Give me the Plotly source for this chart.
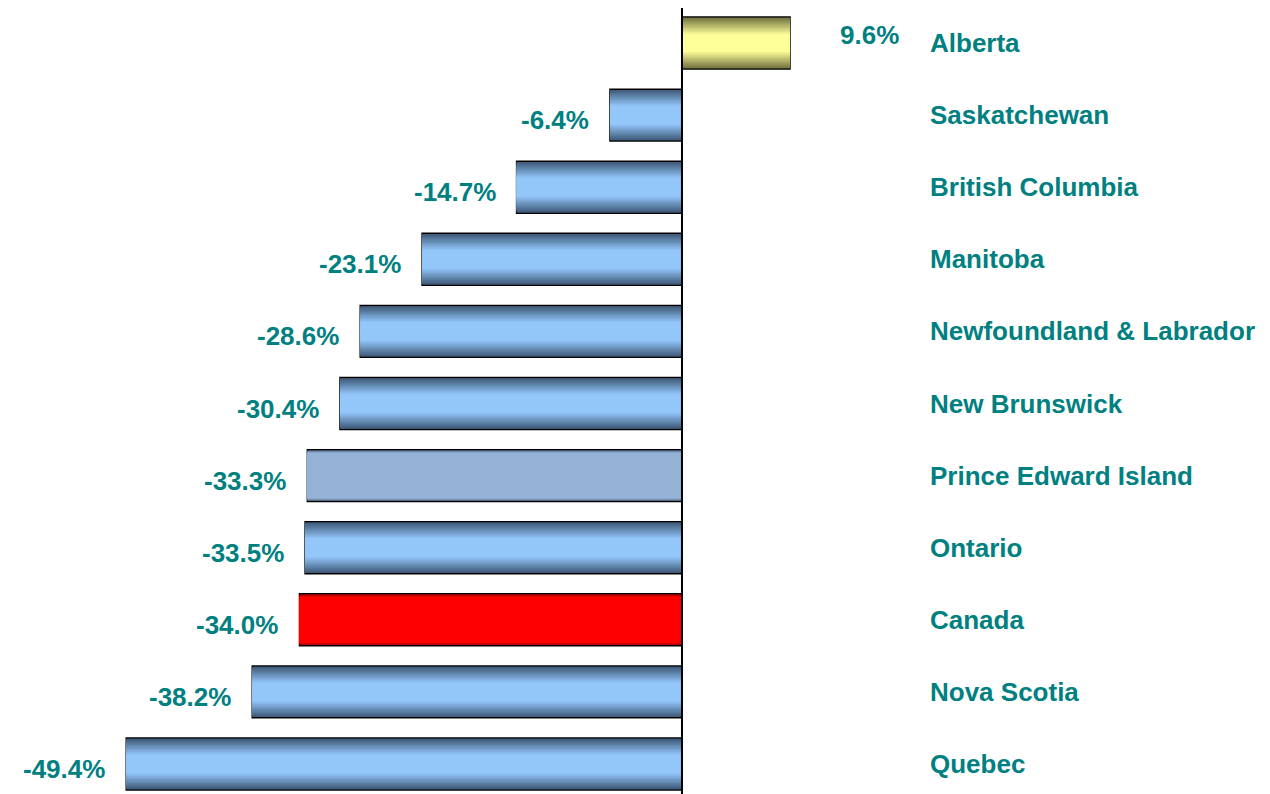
import plotly.graph_objects as go

# Ordre de haut en bas
provinces = ['Alberta', 'Saskatchewan', 'British Columbia', 'Manitoba',
             'Newfoundland & Labrador', 'New Brunswick', 'Prince Edward Island',
             'Ontario', 'Canada', 'Nova Scotia', 'Quebec']
changes = [9.6, -6.4, -14.7, -23.1, -28.6, -30.4, -33.3, -33.5, -34.0, -38.2, -49.4]
labels = ['9.6%', '-6.4%', '-14.7%', '-23.1%', '-28.6%', '-30.4%', '-33.3%',
          '-33.5%', '-34.0%', '-38.2%', '-49.4%']
styles = ['alberta', 'blue', 'blue', 'blue', 'blue', 'blue', 'pei',
          'blue', 'canada', 'blue', 'blue']

TEAL = '#008080'
FONT = 'Liberation Sans, Arial, sans-serif'

# couleur du bord, couleur du centre, largeur de la zone sombre
palette = {
    'blue': ('#3b5574', '#93c7fa', 0.62),
    'alberta': ('#6f6f3f', '#ffff99', 0.65),
    'pei': ('#4f627c', '#95b3d7', 0.12),
    'canada': ('#9a0000', '#ff0000', 0.12),
}


def mix(c1, c2, t):
    a = [int(c1[i:i + 2], 16) for i in (1, 3, 5)]
    b = [int(c2[i:i + 2], 16) for i in (1, 3, 5)]
    return 'rgb(%d,%d,%d)' % tuple(round(x + (y - x) * t) for x, y in zip(a, b))


BAR_W = 0.72
steps = [1.0, 0.97, 0.94, 0.91, 0.88, 0.85, 0.81, 0.77, 0.73, 0.68, 0.63, 0.58,
         0.53, 0.47, 0.41, 0.35]

fig = go.Figure()
# faux degrade : barres superposees de plus en plus fines et claires
for k, f in enumerate(steps):
    cols = []
    for s in styles:
        edge, center, spread = palette[s]
        cols.append(mix(edge, center, min(1.0, (1 - f) / spread)))
    fig.add_trace(go.Bar(
        x=changes, y=provinces, orientation='h', width=BAR_W * f,
        marker=dict(color=cols, line=dict(color='black', width=1.5 if k == 0 else 0)),
        hoverinfo='skip', showlegend=False))

lab_font = dict(family=FONT, size=26, color=TEAL, weight='bold')
for prov, val, lab in zip(provinces, changes, labels):
    fig.add_annotation(x=920 / 1270, xref='paper', y=prov, text=prov, showarrow=False,
                       xanchor='left', font=lab_font)
    if val >= 0:
        fig.add_annotation(x=val, y=prov, text=lab, showarrow=False, xanchor='left',
                           xshift=48, yshift=8, font=lab_font)
    else:
        fig.add_annotation(x=val, y=prov, text=lab, showarrow=False, xanchor='right',
                           xshift=-19, yshift=-5, font=lab_font)

fig.add_shape(type='line', x0=0, x1=0, xref='x', y0=0, y1=1, yref='paper',
              line=dict(color='black', width=2), layer='above')

fig.update_layout(
    width=1270, height=794, barmode='overlay',
    margin=dict(l=0, r=0, t=0, b=0),
    paper_bgcolor='white', plot_bgcolor='white',
    xaxis=dict(range=[-59.91, 52.98], visible=False, fixedrange=True),
    yaxis=dict(categoryorder='array', categoryarray=provinces, range=[10.527, -0.4854],
               visible=False, fixedrange=True),
)

fig.write_html("out.html")
